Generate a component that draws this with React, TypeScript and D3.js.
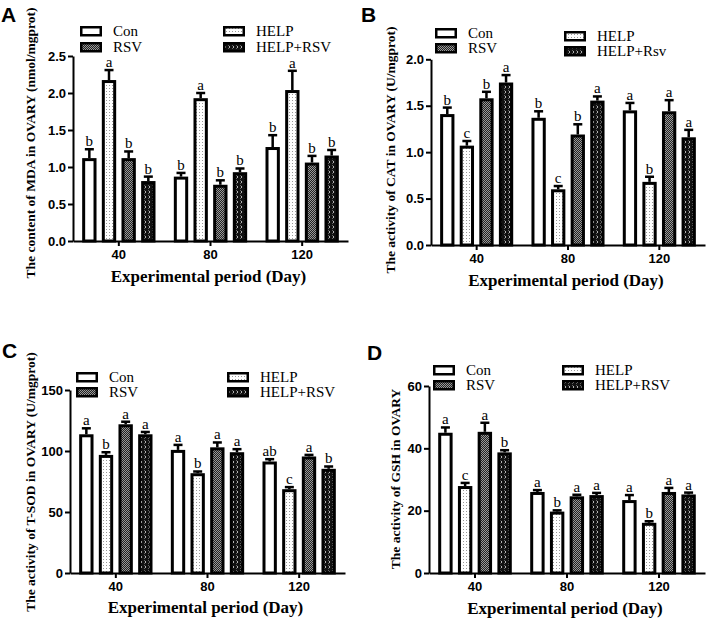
import * as d3 from "d3";
import React, { useEffect, useRef } from "react";

const periods = ["40", "80", "120"];
const groups = ["Con", "HELP", "RSV", "HELP+RSV"];

// rows = periods, columns = groups
const mdaMean = [
  [1.12, 2.175, 1.12, 0.81],
  [0.87, 1.93, 0.76, 0.93],
  [1.27, 2.04, 1.06, 1.155],
];
const mdaErr = [
  [0.12, 0.135, 0.09, 0.06],
  [0.05, 0.07, 0.06, 0.05],
  [0.16, 0.26, 0.09, 0.075],
];
const mdaLetters = [
  ["b", "a", "b", "b"],
  ["b", "a", "b", "b"],
  ["b", "a", "b", "b"],
];

const catMean = [
  [1.41, 1.07, 1.58, 1.75],
  [1.37, 0.6, 1.19, 1.555],
  [1.45, 0.68, 1.44, 1.16],
];
const catErr = [
  [0.07, 0.05, 0.07, 0.08],
  [0.07, 0.035, 0.11, 0.045],
  [0.08, 0.055, 0.12, 0.08],
];
const catLetters = [
  ["b", "c", "b", "a"],
  ["b", "c", "b", "a"],
  ["a", "b", "a", "a"],
];

const sodMean = [
  [113.7, 96.8, 121.9, 113.7],
  [100.9, 81.8, 103, 99],
  [91.4, 68.7, 95.5, 85.4],
];
const sodErr = [
  [4.9, 2.2, 2.1, 1.9],
  [4.1, 1.4, 4, 2.5],
  [1.9, 1.7, 1.3, 1.9],
];
const sodLetters = [
  ["a", "b", "a", "a"],
  ["a", "b", "a", "a"],
  ["ab", "c", "a", "b"],
];

const gshMean = [
  [45, 27.9, 45.3, 38.7],
  [26, 19.7, 24.6, 25],
  [23.4, 16.1, 26, 25.2],
];
const gshErr = [
  [1.7, 1.0, 2.9, 0.7],
  [0.6, 0.4, 0.5, 0.7],
  [1.6, 0.5, 1.3, 0.6],
];
const gshLetters = [
  ["a", "c", "a", "b"],
  ["a", "b", "a", "a"],
  ["a", "b", "a", "a"],
];

const fills = ["#fff", "url(#pDots)", "url(#pCheck)", "url(#pWave)"];

const panels = [
  {
    tag: "A", tagX: 1, tagY: 22,
    mean: mdaMean, err: mdaErr, letters: mdaLetters,
    legend: ["Con", "HELP", "RSV", "HELP+RSV"],
    left: 73, right: 348, y0: 241, yTop: 56, yMax: 2.5,
    ticks: [0, 0.5, 1, 1.5, 2, 2.5], fmt: ".1f",
    yTitle: "The content of MDA in OVARY (nmol/mgprot)", yTitleX: 32, yTitleY: 143,
    xTitleY: 282,
    leg: { x1: 80, x2: 223, y1: 26, y2: 42, y1b: 26, y2b: 42 },
  },
  {
    tag: "B", tagX: 361, tagY: 22,
    mean: catMean, err: catErr, letters: catLetters,
    legend: ["Con", "HELP", "RSV", "HELP+Rsv"],
    left: 431, right: 705, y0: 245, yTop: 59.3, yMax: 2,
    ticks: [0, 0.5, 1, 1.5, 2], fmt: ".1f",
    yTitle: "The activity of CAT in OVARY (U/mgprot)", yTitleX: 392, yTitleY: 150,
    xTitleY: 286,
    leg: { x1: 435, x2: 564, y1: 28, y2: 43, y1b: 31, y2b: 46 },
  },
  {
    tag: "C", tagX: 2, tagY: 358,
    mean: sodMean, err: sodErr, letters: sodLetters,
    legend: ["Con", "HELP", "RSV", "HELP+RSV"],
    left: 70, right: 345, y0: 573, yTop: 390, yMax: 150,
    ticks: [0, 50, 100, 150], fmt: "d",
    yTitle: "The activity of T-SOD in OVARY (U/mgprot)", yTitleX: 32, yTitleY: 482,
    xTitleY: 613,
    leg: { x1: 76, x2: 227, y1: 372, y2: 387, y1b: 372, y2b: 387 },
  },
  {
    tag: "D", tagX: 367, tagY: 360,
    mean: gshMean, err: gshErr, letters: gshLetters,
    legend: ["Con", "HELP", "RSV", "HELP+RSV"],
    left: 429, right: 705, y0: 573, yTop: 386, yMax: 60,
    ticks: [0, 20, 40, 60], fmt: "d",
    yTitle: "The activity of GSH in OVARY", yTitleX: 397, yTitleY: 479,
    xTitleY: 614,
    leg: { x1: 433, x2: 562, y1: 365, y2: 380, y1b: 365, y2b: 380 },
  },
];

const serif = "'Liberation Serif', 'Times New Roman', serif";
const sans = "'Liberation Sans', Arial, sans-serif";

export default function App() {
  const svgRef = useRef<SVGSVGElement>(null);

  useEffect(() => {
    const svg = d3.select(svgRef.current);
    svg.selectAll("*").remove();

    const defs = svg.append("defs");
    const dots = defs.append("pattern").attr("id", "pDots")
      .attr("patternUnits", "userSpaceOnUse").attr("width", 3).attr("height", 3);
    dots.append("rect").attr("width", 3).attr("height", 3).attr("fill", "#fff");
    dots.append("rect").attr("x", 1).attr("y", 1).attr("width", 1).attr("height", 1).attr("fill", "#999");

    const check = defs.append("pattern").attr("id", "pCheck")
      .attr("patternUnits", "userSpaceOnUse").attr("width", 2).attr("height", 2);
    check.append("rect").attr("width", 2).attr("height", 2).attr("fill", "#222");
    check.append("rect").attr("width", 1).attr("height", 1).attr("fill", "#999");
    check.append("rect").attr("x", 1).attr("y", 1).attr("width", 1).attr("height", 1).attr("fill", "#999");

    const wave = defs.append("pattern").attr("id", "pWave")
      .attr("patternUnits", "userSpaceOnUse").attr("width", 4).attr("height", 5);
    wave.append("rect").attr("width", 4).attr("height", 5).attr("fill", "#111");
    wave.append("path").attr("d", "M0.5,0.5 L2,2 L0.5,3.5").attr("stroke", "#ddd")
      .attr("stroke-width", 0.8).attr("fill", "none");

    panels.forEach((p) => {
      const g = svg.append("g");
      const x0 = d3.scaleBand().domain(periods).range([p.left, p.right])
        .paddingInner(0.2).paddingOuter(0.1);
      const x1 = d3.scaleBand().domain(groups).range([0, x0.bandwidth()])
        .paddingInner(0.27).paddingOuter(0);
      const y = d3.scaleLinear().domain([0, p.yMax]).range([p.y0, p.yTop]);
      const sw = 3;

      periods.forEach((period, i) => {
        groups.forEach((grp, j) => {
          const v = p.mean[i][j];
          const e = p.err[i][j];
          const bx = (x0(period) as number) + (x1(grp) as number);
          const bw = x1.bandwidth();
          const cx = bx + bw / 2;
          // error bar (upper only)
          g.append("line").attr("x1", cx).attr("x2", cx)
            .attr("y1", y(v)).attr("y2", y(v + e))
            .attr("stroke", "#000").attr("stroke-width", 2.5);
          g.append("line").attr("x1", cx - 4.5).attr("x2", cx + 4.5)
            .attr("y1", y(v + e)).attr("y2", y(v + e))
            .attr("stroke", "#000").attr("stroke-width", 2.5);
          g.append("rect")
            .attr("x", bx + sw / 2).attr("width", bw - sw)
            .attr("y", y(v) + sw / 2).attr("height", y(0) - y(v) - sw / 2)
            .attr("fill", fills[j]).attr("stroke", "#000").attr("stroke-width", sw);
          g.append("text").attr("x", cx).attr("y", y(v + e) - 3)
            .attr("text-anchor", "middle").attr("font-family", serif)
            .attr("font-size", 15).attr("fill", "#000").text(p.letters[i][j]);
        });
      });

      const yAxis = d3.axisLeft(y).tickValues(p.ticks)
        .tickFormat(d3.format(p.fmt) as any).tickSize(5).tickSizeOuter(0).tickPadding(2);
      const ya = g.append("g").attr("transform", `translate(${p.left},0)`).call(yAxis);
      const xAxis = d3.axisBottom(x0).tickSize(5).tickSizeOuter(0).tickPadding(4);
      const xa = g.append("g").attr("transform", `translate(0,${p.y0})`).call(xAxis);
      [ya, xa].forEach((a) => {
        a.select(".domain").attr("stroke-width", 2);
        a.selectAll(".tick line").attr("stroke-width", 2);
        a.selectAll("text").attr("font-family", sans).attr("font-weight", "bold")
          .attr("font-size", 13).attr("fill", "#000");
      });

      g.append("text")
        .attr("transform", `translate(${p.yTitleX},${p.yTitleY}) rotate(-90)`)
        .attr("text-anchor", "middle").attr("dominant-baseline", "middle")
        .attr("font-family", serif).attr("font-weight", "bold").attr("font-size", 13.5)
        .attr("fill", "#000").text(p.yTitle);
      g.append("text").attr("x", (p.left + p.right) / 2 - 2).attr("y", p.xTitleY)
        .attr("text-anchor", "middle").attr("font-family", serif)
        .attr("font-weight", "bold").attr("font-size", 17).attr("fill", "#000")
        .text("Experimental period (Day)");
      g.append("text").attr("x", p.tagX).attr("y", p.tagY)
        .attr("font-family", sans).attr("font-weight", "bold").attr("font-size", 21)
        .attr("fill", "#000").text(p.tag);

      // legend: Con, HELP on first row; RSV, HELP+RSV on second
      const L = p.leg;
      const spots = [
        { x: L.x1, y: L.y1 },
        { x: L.x2, y: L.y1b },
        { x: L.x1, y: L.y2 },
        { x: L.x2, y: L.y2b },
      ];
      spots.forEach((s, k) => {
        g.append("rect").attr("x", s.x + 1.25).attr("y", s.y + 1.25)
          .attr("width", 19.5).attr("height", 8)
          .attr("fill", fills[k]).attr("stroke", "#000").attr("stroke-width", 2.5);
        g.append("text").attr("x", s.x + 33).attr("y", s.y + 10)
          .attr("font-family", serif).attr("font-size", 15).attr("fill", "#000")
          .text(p.legend[k]);
      });
    });
  }, []);

  return (
    <svg
      ref={svgRef}
      width={711}
      height={619}
      style={{ position: "absolute", left: 0, top: 0, background: "#fff" }}
    />
  );
}
